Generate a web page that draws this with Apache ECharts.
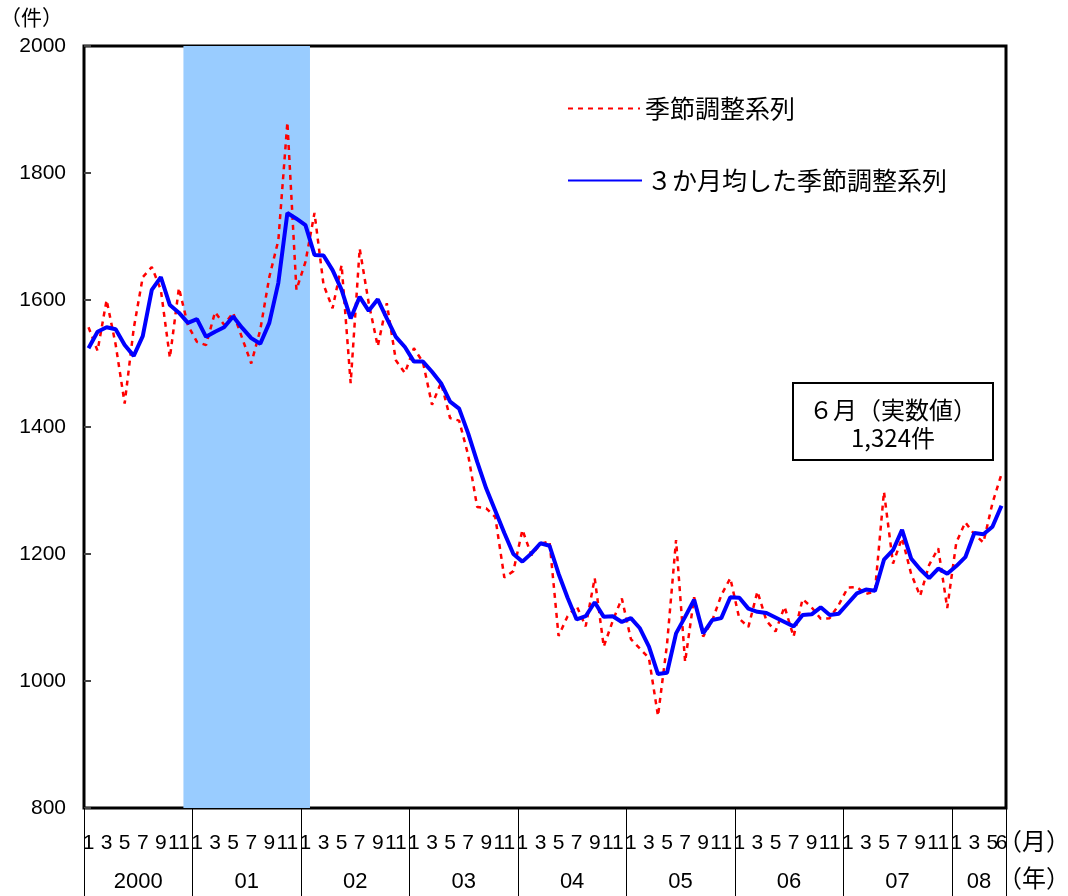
<!DOCTYPE html>
<html>
<head>
<meta charset="utf-8">
<title>季節調整系列</title>
<script src="https://cdn.jsdelivr.net/npm/echarts@6/dist/echarts.min.js"></script>
<style>
  html, body { margin: 0; padding: 0; background: #fff; }
  #chart { width: 1068px; height: 896px; }
</style>
</head>
<body>
<div id="chart"></div>
<script>
// x軸下段の年ラベル
const years = ['2000', '01', '02', '03', '04', '05', '06', '07', '08']
const lastMonth = 6
// 季節調整系列（2000年1月〜2008年6月）
const seasonal = [
  1557, 1520, 1600, 1530, 1437, 1555, 1636, 1652, 1616, 1509, 1619, 1560,
  1534, 1529, 1581, 1561, 1580, 1540, 1500, 1553, 1636, 1694, 1880, 1616,
  1660, 1737, 1624, 1587, 1655, 1469, 1681, 1595, 1527, 1595, 1505, 1485,
  1524, 1502, 1435, 1470, 1414, 1410, 1356, 1274, 1272, 1258, 1163, 1173,
  1238, 1198, 1216, 1220, 1071, 1102, 1118, 1086, 1162, 1054, 1095, 1130,
  1066, 1051, 1036, 945, 1058, 1222, 1030, 1132, 1070, 1095, 1135, 1162,
  1098, 1085, 1141, 1095, 1078, 1117, 1070, 1129, 1116, 1098, 1099, 1120,
  1147, 1148, 1137, 1141, 1298, 1185, 1225, 1169, 1134, 1183, 1209, 1115,
  1218, 1250, 1231, 1218, 1280, 1326
]
// 3か月均した季節調整系列
const movingAvg = [
  1524, 1550, 1557, 1554, 1529, 1512, 1543, 1616, 1636, 1592, 1580, 1564,
  1570, 1542, 1550, 1557, 1574, 1556, 1540, 1531, 1564, 1627, 1737, 1728,
  1718, 1671, 1670, 1647, 1616, 1571, 1605, 1583, 1601, 1571, 1542, 1526,
  1503, 1503, 1487, 1469, 1440, 1429, 1390, 1345, 1303, 1268, 1233, 1200,
  1188, 1201, 1217, 1213, 1169, 1131, 1097, 1102, 1124, 1101, 1102, 1093,
  1099, 1083, 1054, 1011, 1013, 1075, 1101, 1128, 1075, 1096, 1099, 1132,
  1131, 1114, 1109, 1107, 1100, 1093, 1086, 1104, 1105, 1116, 1104, 1106,
  1122, 1138, 1144, 1142, 1191, 1206, 1238, 1193, 1176, 1162, 1177, 1169,
  1181, 1195, 1233, 1231, 1243, 1276
]
// 景気後退期（網掛け）: 2000年12月〜2002年1月
const recession = ['2000/12', '02/1']
// 6月の実数値
const juneActual = 1324
// y軸
const yMin = 800
const yMax = 2000
const yStep = 200

// カテゴリ（年/月）と年ラベルの中心位置
const categories = []
const yearCenters = {}
years.forEach((y, i) => {
  const n = i === years.length - 1 ? lastMonth : 12
  yearCenters[categories.length + n / 2] = y
  for (let m = 1; m <= n; m++) categories.push(y + '/' + m)
})
const monthCount = categories.length
// 網掛けは月の枠ごと塗る（月番号軸の上で）
const bandFrom = categories.indexOf(recession[0])
const bandTo = categories.indexOf(recession[1]) + 1
const bandData = [[bandFrom, yMax], [bandTo, yMax]]

// 奇数月と最終月だけ月ラベルを出す
const monthLabel = (v, i) => (i % 2 === 0 || i === monthCount - 1) ? v.split('/')[1] : ''

const latin = '"Liberation Sans", Arial, sans-serif'
const jp = '"Noto Sans CJK JP", sans-serif'

const chart = echarts.init(document.getElementById('chart'))
const option = {
  animation: false,
  backgroundColor: '#fff',
  grid: {
    left: 84, right: 62, top: 46, bottom: 88,
    show: true, borderColor: '#000', borderWidth: 3,
    containLabel: false, outerBoundsMode: 'none'
  },
  legend: [
    {
      data: ['季節調整系列'], left: 562, top: 91,
      itemWidth: 72, itemHeight: 14,
      itemStyle: { opacity: 0 },
      textStyle: { fontFamily: jp, fontSize: 25, color: '#000' }
    },
    {
      data: ['３か月均した季節調整系列'], left: 562, top: 163,
      itemWidth: 74, itemHeight: 14,
      itemStyle: { opacity: 0 },
      textStyle: { fontFamily: jp, fontSize: 25, color: '#000' }
    }
  ],
  xAxis: [
    {
      type: 'category', data: categories, boundaryGap: true,
      axisLine: { show: false },
      axisTick: {
        show: true, length: 90,
        interval: (i) => i % 12 === 0,
        lineStyle: { color: '#000', width: 1 }
      },
      axisLabel: {
        interval: 0,
        formatter: monthLabel,
        hideOverlap: false,
        fontFamily: latin, fontSize: 21, color: '#000', margin: 25
      }
    },
    {
      type: 'value', min: 0, max: monthCount, interval: 3, position: 'bottom',
      axisLine: { show: false }, axisTick: { show: false }, splitLine: { show: false },
      axisLabel: {
        formatter: (v) => yearCenters[v] || '',
        fontFamily: latin, fontSize: 22, color: '#000', margin: 63
      }
    }
  ],
  yAxis: {
    type: 'value', min: yMin, max: yMax, interval: yStep,
    axisLine: { show: false }, splitLine: { show: false },
    axisTick: { show: true, inside: true, length: 7, lineStyle: { color: '#444', width: 2 } },
    axisLabel: { formatter: (v) => String(v), fontFamily: latin, fontSize: 21, color: '#000', margin: 18 }
  },
  series: [
    {
      type: 'line', xAxisIndex: 1, data: bandData, z: 1,
      symbol: 'none', silent: true,
      lineStyle: { width: 0 },
      areaStyle: { color: '#99ccff', opacity: 1 }
    },
    {
      name: '季節調整系列', type: 'line', data: seasonal, symbol: 'none', z: 3,
      itemStyle: { color: '#ff0000' },
      lineStyle: { color: '#ff0000', width: 2.5, type: [5, 5] }
    },
    {
      name: '３か月均した季節調整系列', type: 'line', data: movingAvg, symbol: 'none', z: 4,
      itemStyle: { color: '#0000ff' },
      lineStyle: { color: '#0000ff', width: 4 }
    }
  ],
  graphic: [
    { type: 'text', left: 0, top: 7, style: { text: '（件）', font: '21px ' + jp, fill: '#000' } },
    { type: 'text', left: 998, top: 829, style: { text: '（月）', font: '24px ' + jp, fill: '#000' } },
    { type: 'text', left: 998, top: 866, style: { text: '（年）', font: '24px ' + jp, fill: '#000' } },
    {
      type: 'group', left: 792, top: 382,
      children: [
        { type: 'rect', shape: { x: 0, y: 0, width: 200, height: 77 }, style: { fill: '#fff', stroke: '#000', lineWidth: 2 } },
        { type: 'text', x: 100, y: 27, style: { text: '６月（実数値）', align: 'center', verticalAlign: 'middle', font: '24px ' + jp, fill: '#000' } },
        { type: 'text', x: 100, y: 55, style: { text: juneActual.toLocaleString('en-US') + '件', align: 'center', verticalAlign: 'middle', font: '24px ' + jp, fill: '#000' } }
      ]
    }
  ]
}
chart.setOption(option)
</script>
</body>
</html>
